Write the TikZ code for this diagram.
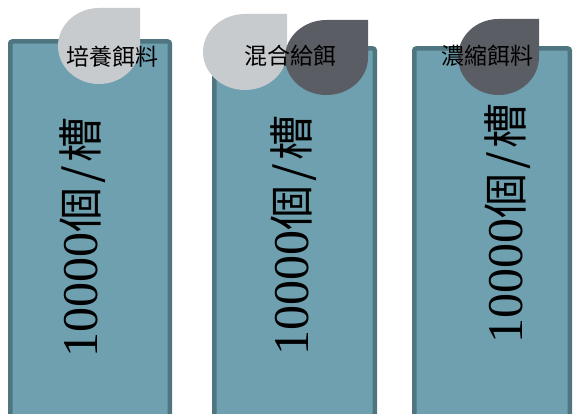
\documentclass[tikz,border=0pt]{standalone}
\usepackage{fontspec}
\setmainfont{Liberation Serif}
\newfontfamily\cjk{Noto Sans CJK TC}
\newfontfamily\digitfont{Liberation Serif}
\definecolor{tankfill}{HTML}{6FA0B0}
\definecolor{tankline}{HTML}{4F7580}
\definecolor{droplight}{HTML}{C8CBCE}
\definecolor{dropdark}{HTML}{5A5D63}
\newcommand{\tanktext}{{\digitfont\fontsize{50}{50}\selectfont 10000}{\cjk\fontsize{45}{45}\selectfont 個\hspace{4pt}/\hspace{4pt}槽}}
\newcommand{\dropshape}[5]{% xr, ytop(pixel), w, h, color
  \fill[#5] (#1,413-#2) -- (#1,413-#2-#4/2)
    arc[start angle=0,end angle=-90,x radius=#3/2,y radius=#4/2]
    arc[start angle=-90,end angle=-180,x radius=#3/2,y radius=#4/2]
    arc[start angle=180,end angle=90,x radius=#3/2,y radius=#4/2] -- cycle;}
\begin{document}
\begin{tikzpicture}[x=1pt,y=1pt,
  tank/.style={draw=tankline,fill=tankfill,line width=4.5pt,rounded corners=2pt,
    minimum height=440pt,anchor=north,inner sep=0pt},
  droplabel/.style={font=\cjk\fontsize{23}{23}\selectfont,text=black,inner sep=0pt},
  tanklabel/.style={rotate=90,anchor=base west,inner sep=0pt,text=black}]
\useasboundingbox (0,0) rectangle (573,413);
% tanks
\node[tank,minimum width=159.5pt] (t1) at (90,413-39.25) {};
\node[tank,minimum width=160.5pt] (t2) at (294.5,413-46.25) {};
\node[tank,minimum width=155.5pt] (t3) at (492,413-46.25) {};
% drops
\dropshape{140}{8}{82}{76}{droplight}
\dropshape{287}{14}{84}{76}{droplight}
\dropshape{368}{20}{83}{75}{dropdark}
\dropshape{539}{19}{81}{76}{dropdark}
% drop labels
\node[droplabel] (l1) at (112,413-57) {培養餌料};
\node[droplabel] (l2) at (290,413-56) {混合給餌};
\node[droplabel] (l3) at (487,413-56) {濃縮餌料};
% tank labels
\node[tanklabel] (n1) at (97,55) {\tanktext};
\node[tanklabel] (n2) at (308,57) {\tanktext};
\node[tanklabel] (n3) at (522,69) {\tanktext};
\end{tikzpicture}
\end{document}
